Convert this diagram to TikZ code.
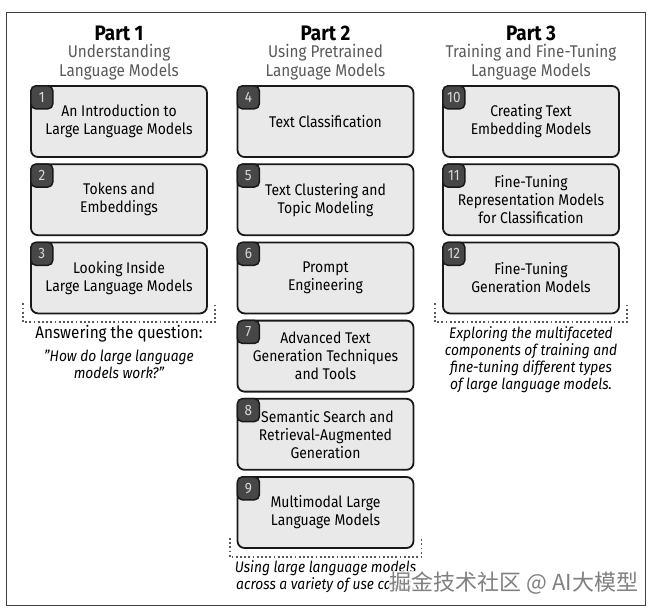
\documentclass[tikz,border=0pt]{standalone}
\usepackage{fontspec}
\setmainfont{Fira Sans}[FakeStretch=0.9]
\newfontfamily\cjkfont{Noto Sans CJK SC}
\usetikzlibrary{positioning}

\begin{document}
\begin{tikzpicture}[
  x=1pt, y=-1pt,
  font=\fontsize{15.5}{18}\selectfont,
  chapter/.style={draw=black!90, fill=gray!17, line width=1.8pt,
                  rounded corners=7pt, minimum width=176pt,
                  minimum height=71pt, align=center, inner sep=2pt},
  badge/.style={draw=black!90, fill=black!72, text=white!85!black,
                line width=1.5pt, rounded corners=5pt, minimum width=22pt,
                minimum height=23pt, inner sep=0pt, anchor=north west,
                font=\fontsize{15}{15}\selectfont},
  parttitle/.style={font=\fontsize{21}{24}\selectfont\bfseries},
  partsub/.style={align=center, text=black!65,
                  font=\fontsize{17}{19.5}\selectfont},
  caption/.style={align=center, font=\fontsize{15.3}{17}\selectfont\itshape},
  bracket/.style={draw=black!65, line width=1.8pt,
                  dash pattern=on 1.8pt off 2.4pt},
]

% ---- Frame and page size ----------------------------------------------------
\useasboundingbox (0,0) rectangle (659,615);
\draw[black!75, line width=0.9pt] (6,12) rectangle (645,605);

\def\xa{119}     % column centres
\def\xb{325.5}
\def\xc{531}
\def\ytop{121.5} % centre of the first row
\def\yrow{78.2}  % row spacing

% ---- Part headings ----------------------------------------------------------
\node[parttitle] (p1) at (\xa,33) {Part 1};
\node[partsub]   (s1) at (\xa,62) {Understanding\\Language Models};
\node[parttitle] (p2) at (\xb,33) {Part 2};
\node[partsub]   (s2) at (\xb,62) {Using Pretrained\\Language Models};
\node[parttitle] (p3) at (\xc,33) {Part 3};
\node[partsub]   (s3) at (\xc,62) {Training and Fine-Tuning\\Language Models};

% ---- Part 1 chapters --------------------------------------------------------
\node[chapter] (c1) at (\xa,\ytop) {An Introduction to\\Large Language Models};
\node[chapter] (c2) at (\xa,\ytop+\yrow) {Tokens and\\Embeddings};
\node[chapter] (c3) at (\xa,\ytop+2*\yrow) {Looking Inside\\Large Language Models};

% ---- Part 2 chapters --------------------------------------------------------
\node[chapter] (c4) at (\xb,\ytop) {Text Classification};
\node[chapter] (c5) at (\xb,\ytop+\yrow) {Text Clustering and\\Topic Modeling};
\node[chapter] (c6) at (\xb,\ytop+2*\yrow) {Prompt\\Engineering};
\node[chapter] (c7) at (\xb,\ytop+3*\yrow) {Advanced Text\\Generation Techniques\\and Tools};
\node[chapter] (c8) at (\xb,\ytop+4*\yrow) {\hspace*{4pt}Semantic Search and\\Retrieval-Augmented\\Generation};
\node[chapter] (c9) at (\xb,\ytop+5*\yrow) {Multimodal Large\\Language Models};

% ---- Part 3 chapters --------------------------------------------------------
\node[chapter] (c10) at (\xc,\ytop) {Creating Text\\Embedding Models};
\node[chapter] (c11) at (\xc,\ytop+\yrow) {Fine-Tuning\\Representation Models\\for Classification};
\node[chapter] (c12) at (\xc,\ytop+2*\yrow) {Fine-Tuning\\Generation Models};

% ---- Chapter numbers --------------------------------------------------------
\foreach \n in {1,...,12}{
  \node[badge] (b\n) at (c\n.north west) {\n};
}

% ---- Dotted brackets --------------------------------------------------------
\draw[bracket] ([xshift=-7pt,yshift=11pt]c3.south west)
  |- ([xshift=7pt,yshift=-8pt]c3.south east) -- ([xshift=7pt,yshift=11pt]c3.south east);
\draw[bracket] ([xshift=-7pt,yshift=11pt]c9.south west)
  |- ([xshift=7pt,yshift=-8pt]c9.south east) -- ([xshift=7pt,yshift=11pt]c9.south east);
\draw[bracket] ([xshift=-7pt,yshift=11pt]c12.south west)
  |- ([xshift=7pt,yshift=-8pt]c12.south east) -- ([xshift=7pt,yshift=11pt]c12.south east);

% ---- Captions ---------------------------------------------------------------
\node[font=\fontsize{17}{19}\selectfont] (q1) at (\xa,334) {Answering the question:};
\node[caption, below=0pt of q1] (q1b) {"How do large language\\models work?"};
\node[caption] (q2) at (\xb,576.5) {Using large language models\\across a variety of use cases.};
\node[caption] (q3) at (\xc,360) {Exploring the multifaceted\\components of training and\\fine-tuning different types\\of large language models.};

% watermark of the source image
\node[font=\cjkfont\fontsize{22}{22}\selectfont, text=black!50, fill=white,
      fill opacity=0.85, text opacity=1, inner sep=1pt] (wm) at (514,583)
  {掘金技术社区 @ AI大模型};

\end{tikzpicture}
\end{document}
